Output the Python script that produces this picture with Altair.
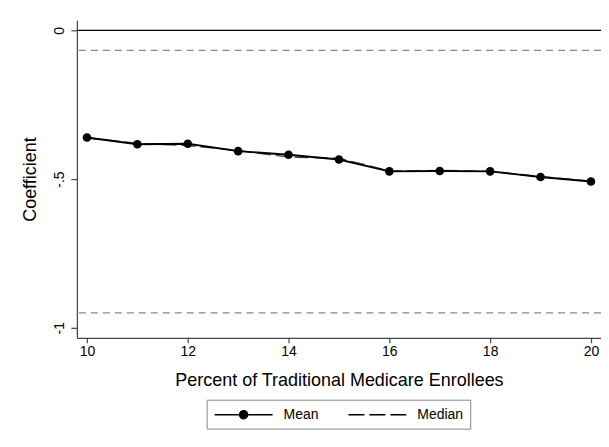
import altair as alt
import pandas as pd

# ---- data ----
pct = [10, 11, 12, 13, 14, 15, 16, 17, 18, 19, 20]
mean_coef = [-0.360, -0.383, -0.381, -0.406, -0.418, -0.434, -0.474, -0.473, -0.474, -0.493, -0.508]
median_coef = [-0.362, -0.380, -0.387, -0.404, -0.426, -0.430, -0.473, -0.471, -0.474, -0.492, -0.507]
zero_line = [0.0]
bound_lines = [-0.067, -0.95]
series_names = ["Mean", "Median"]
x_ticks = [10, 12, 14, 16, 18, 20]
y_ticks = [-1, -0.5, 0]
y_tick_labels = ["-1", "-.5", "0"]

FONT = "Liberation Sans"

mean_df = pd.DataFrame({"pct": pct, "coef": mean_coef})
median_df = pd.DataFrame({"pct": pct, "coef": median_coef})
zero_df = pd.DataFrame({"y": zero_line})
bound_df = pd.DataFrame({"y": bound_lines})
legend_df = pd.DataFrame({"pct": pct * 2, "coef": mean_coef + median_coef,
                          "series": ["Mean"] * len(pct) + ["Median"] * len(pct)})

label_expr = " : ".join(
    f"datum.value == {v} ? '{l}'" for v, l in zip(y_ticks, y_tick_labels)
) + " : ''"

x_enc = alt.X("pct:Q",
              scale=alt.Scale(domain=[9.8, 20.2], nice=False, zero=False),
              axis=alt.Axis(values=x_ticks, title="Percent of Traditional Medicare Enrollees",
                            grid=False, tickSize=5, labelPadding=9, labelBaseline="middle",
                            titleY=43, titleBaseline="middle"))
y_scale = alt.Scale(domain=[-1.034, 0.034], nice=False, zero=False)
y_enc = alt.Y("coef:Q", scale=y_scale,
              axis=alt.Axis(values=y_ticks, labelExpr=label_expr, title="Coefficient",
                            grid=False, tickSize=6, labelAngle=-90, labelAlign="center",
                            labelBaseline="middle", labelPadding=11,
                            titleAngle=-90, titleX=-46, titleY=159,
                            titleAlign="center", titleBaseline="middle"))

zero_rule = alt.Chart(zero_df).mark_rule(color="black", strokeWidth=1.3).encode(
    y=alt.Y("y:Q", scale=y_scale))
bound_rule = alt.Chart(bound_df).mark_rule(color="#888888", strokeWidth=1.4,
                                           strokeDash=[7, 5]).encode(
    y=alt.Y("y:Q", scale=y_scale))

median_line = alt.Chart(median_df).mark_line(color="#444444", strokeWidth=1.4,
                                             strokeDash=[14, 5]).encode(x=x_enc, y=y_enc)
mean_line = alt.Chart(mean_df).mark_line(color="black", strokeWidth=1.9).encode(x=x_enc, y=y_enc)
mean_pts = alt.Chart(mean_df).mark_point(filled=True, color="black", size=75,
                                         opacity=1).encode(x=x_enc, y=y_enc)

# legend-only layer: no marks drawn, legend symbols are custom paths
mean_sym = "M-1,0H7.29M2.57,0a0.57,0.57 0 1,0 1.14,0a0.57,0.57 0 1,0 -1.14,0Z"
median_sym = "M-1,0H7.29"
legend_props = dict(title=None, orient="none", legendX=130, legendY=380,
                    direction="horizontal", strokeColor="#888888",
                    fillColor="white", padding=7, symbolSize=196,
                    labelOffset=54, columnPadding=26,
                    labelFont=FONT, labelFontSize=14, labelColor="black",
                    symbolStrokeWidth=1.5)
legend_layer = alt.Chart(legend_df).transform_filter("false").mark_point(
    filled=True, fill="black", stroke="black", strokeWidth=1.6, opacity=1
).encode(
    x=x_enc, y=y_enc,
    shape=alt.Shape("series:N",
                    scale=alt.Scale(domain=series_names, range=[mean_sym, median_sym]),
                    legend=alt.Legend(**legend_props)),
    strokeDash=alt.StrokeDash("series:N",
                              scale=alt.Scale(domain=series_names, range=[[1, 0], [16, 5]]),
                              legend=alt.Legend(**legend_props)),
)

chart = alt.layer(
    zero_rule, bound_rule, median_line, mean_line, mean_pts, legend_layer
).properties(
    width=525, height=318,
    background="white",
    autosize=alt.AutoSizeParams(type="none"),
    padding={"left": 69, "top": 12, "right": 0, "bottom": 100},
).configure_view(stroke=None).configure_axis(
    domainColor="#444444", tickColor="#444444", domainWidth=1.2, tickWidth=1.2,
    labelFont=FONT, labelFontSize=14, labelColor="black",
    titleFont=FONT, titleFontSize=18, titleColor="black", titleFontWeight="normal",
)

chart.save("out.html", embed_options={"renderer": "svg", "actions": False})
